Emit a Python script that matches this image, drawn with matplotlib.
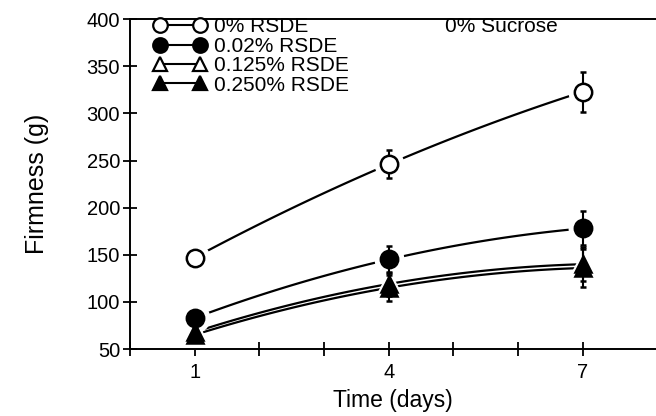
import numpy as np
import matplotlib
matplotlib.use("Agg")
import matplotlib.pyplot as plt
from matplotlib.lines import Line2D

plt.rcParams['font.family'] = ['Liberation Sans', 'DejaVu Sans']

days = [1, 4, 7]
labels = ["0% RSDE", "0.02% RSDE", "0.125% RSDE", "0.250% RSDE"]
firm_0 = [147, 246, 323]
firm_002 = [83, 145, 178]
firm_0125 = [68, 119, 140]
firm_0250 = [65, 115, 136]
err_0 = [3, 15, 21]
err_002 = [3, 14, 18]
err_0125 = [3, 13, 18]
err_0250 = [3, 14, 20]

series = [
    (firm_0, err_0, "o", "white"),
    (firm_002, err_002, "o", "black"),
    (firm_0125, err_0125, "^", "white"),
    (firm_0250, err_0250, "^", "black"),
]

fig = plt.figure(figsize=(6.56, 4.16), dpi=100)
ax = fig.add_axes([0.198, 0.161, 0.802, 0.793])

xs = np.linspace(1, 7, 100)
for vals, errs, mk, face in series:
    # smooth fitted curve through the three means
    coef = np.polyfit(days, vals, 2)
    ax.plot(xs, np.polyval(coef, xs), color="black", lw=1.6, zorder=1)
    ms = 12.5 if mk == "o" else 11.5
    # white halo so the curve stops short of the markers
    ax.plot(days, vals, linestyle="none", marker=mk, ms=ms + 8,
            mfc="white", mec="white", zorder=2)
    ax.errorbar(days, vals, yerr=errs, fmt="none", ecolor="black",
                elinewidth=1.5, capsize=2.5, capthick=1.8, zorder=3)
    ax.plot(days, vals, linestyle="none", marker=mk, ms=ms,
            mfc=face, mec="black", mew=1.8, zorder=4)

ax.set_xlim(0, 8.13)
ax.set_ylim(50, 400)
ax.set_xticks(range(0, 8))
ax.set_xticklabels(["", "1", "", "", "4", "", "", "7"])
ax.set_yticks(range(50, 401, 50))
ax.tick_params(direction="inout", length=10, width=1.3, labelsize=14.5)
ax.tick_params(axis="x", pad=5)
ax.tick_params(axis="y", pad=2)
ax.spines["right"].set_visible(False)
for s in ["left", "bottom", "top"]:
    ax.spines[s].set_linewidth(1.4)

ax.set_xlabel("Time (days)", fontsize=16.5, labelpad=5)
ax.set_ylabel("Firmness (g)", fontsize=18, labelpad=27)

ax.text(0.599, 0.978, "0% Sucrose", transform=ax.transAxes, fontsize=15,
        ha="left", va="center")

handles = [Line2D([], [], color="black", lw=1.5, marker=mk, ms=10.5,
                  mfc=face, mec="black", mew=1.6)
           for _, _, mk, face in series]
ax.legend(handles, labels, loc="upper left", bbox_to_anchor=(0.045, 1.005),
          numpoints=2, frameon=False, fontsize=15, labelspacing=0.02,
          handlelength=2.55, handletextpad=0.35, borderpad=0,
          borderaxespad=0)

fig.savefig("out.png", dpi=100)
